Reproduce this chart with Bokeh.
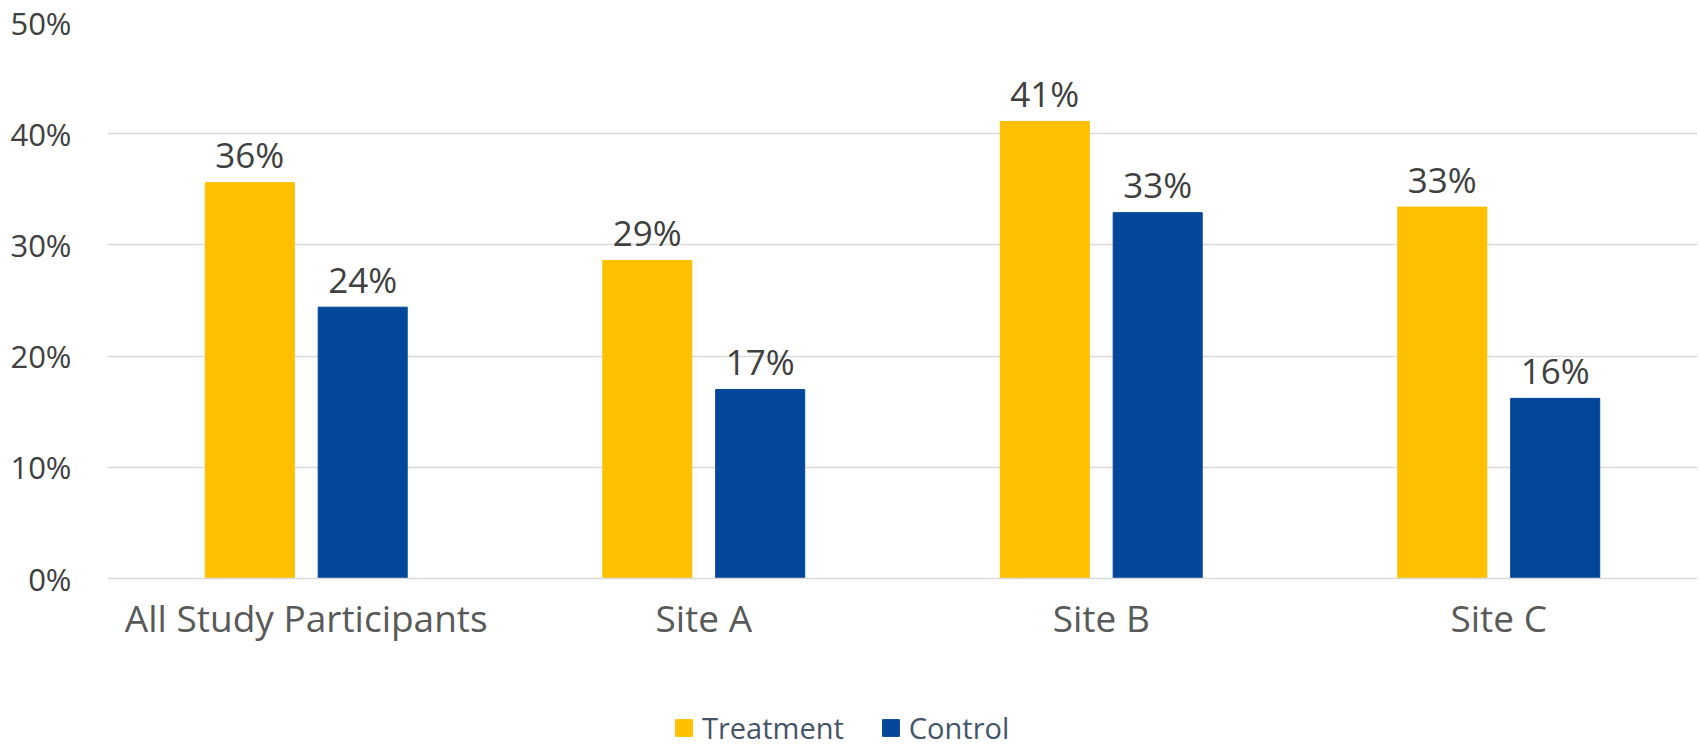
from bokeh.plotting import figure
from bokeh.layouts import column
from bokeh.models import (FactorRange, ColumnDataSource, Legend, LegendItem,
                          NumeralTickFormatter, FixedTicker, Range1d)
from bokeh.transform import dodge
from bokeh.core.properties import value
from bokeh.embed import file_html
from bokeh.resources import INLINE

# Share of participants (%) by group
categories = ["All Study Participants", "Site A", "Site B", "Site C"]
treatment = [35.6, 28.6, 41.1, 33.4]
control = [24.4, 17.0, 32.9, 16.2]
series_names = ["Treatment", "Control"]
y_ticks = [0, 10, 20, 30, 40, 50]

TREAT_COLOR = "#FFC000"
CTRL_COLOR = "#03479A"
FONT = "Open Sans"

src = ColumnDataSource(dict(
    cat=categories,
    treatment=treatment,
    control=control,
    t_lab=[f"{round(v)}%" for v in treatment],
    c_lab=[f"{round(v)}%" for v in control],
))

p = figure(
    width=1700, height=650,
    x_range=FactorRange(*categories, range_padding=0),
    y_range=(0, 50),
    output_backend="svg", toolbar_location=None,
    min_border_left=107, min_border_right=3,
    min_border_top=22, min_border_bottom=72,
)
p.outline_line_color = None
p.background_fill_color = "white"

OFF = 0.142
W = 0.224
p.vbar(x=dodge("cat", -OFF, range=p.x_range), top="treatment", width=W,
       color=TREAT_COLOR, source=src)
p.vbar(x=dodge("cat", OFF, range=p.x_range), top="control", width=W,
       color=CTRL_COLOR, source=src)

# value labels above the bars
for col, lab, off in (("treatment", "t_lab", -OFF), ("control", "c_lab", OFF)):
    p.text(x=dodge("cat", off, range=p.x_range), y=col, text=lab, source=src,
           text_align="center", text_baseline="alphabetic", y_offset=-28,
           text_font=value(FONT), text_font_size="35px", text_color="#404040")

# axes
p.yaxis.ticker = FixedTicker(ticks=y_ticks)
p.yaxis.formatter = NumeralTickFormatter(format="0")
p.yaxis.major_label_overrides = {t: f"{t}%" for t in y_ticks}
p.yaxis.axis_line_color = None
p.yaxis.major_tick_line_color = None
p.yaxis.minor_tick_line_color = None
p.yaxis.major_label_text_font = FONT
p.yaxis.major_label_text_font_size = "31px"
p.yaxis.major_label_text_color = "#404040"
p.yaxis.major_label_standoff = 30

p.xaxis.axis_line_color = "#D9D9D9"
p.xaxis.axis_line_width = 1.5
p.xaxis.major_tick_line_color = None
p.xaxis.minor_tick_line_color = None
p.xaxis.major_label_text_font = FONT
p.xaxis.major_label_text_font_size = "37px"
p.xaxis.major_label_text_color = "#595959"
p.xaxis.major_label_standoff = 7

p.xgrid.grid_line_color = None
p.ygrid.grid_line_color = "#D9D9D9"
p.ygrid.grid_line_width = 1.5

# legend strip underneath the chart
leg = figure(
    width=1700, height=96, x_range=Range1d(0, 1), y_range=Range1d(0, 1),
    output_backend="svg", toolbar_location=None,
    min_border=0, min_border_left=0, min_border_right=0,
    min_border_top=0, min_border_bottom=0,
)
leg.axis.visible = False
leg.grid.visible = False
leg.outline_line_color = None
items = []
for name, color in zip(series_names, [TREAT_COLOR, CTRL_COLOR]):
    # zero-size proxy bar: only its swatch appears, in the legend
    r = leg.vbar(x=[0], top=[0], width=0, color=color)
    items.append(LegendItem(label=name, renderers=[r]))

legend = Legend(
    items=items, orientation="horizontal", location=(566, -1),
    label_text_font=FONT, label_text_font_size="29px", label_text_color="#44546A",
    label_text_line_height=0.7,
    glyph_width=21, glyph_height=21, label_height=21, label_standoff=8, spacing=36,
    padding=0, margin=0, border_line_color=None, background_fill_alpha=0,
)
leg.add_layout(legend, "center")

open("out.html", "w").write(file_html(column(p, leg, spacing=0), INLINE))
